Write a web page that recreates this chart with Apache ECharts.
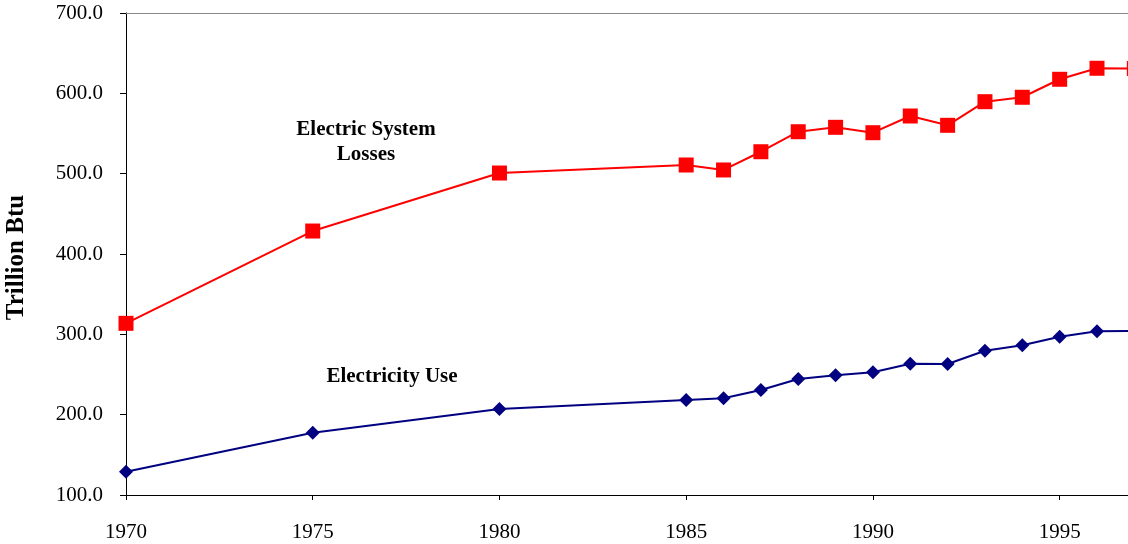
<!DOCTYPE html>
<html><head><meta charset="utf-8">
<script src="https://cdn.jsdelivr.net/npm/echarts@6/dist/echarts.min.js"></script>
<style>html,body{margin:0;padding:0;background:#fff}#c{width:1128px;height:544px}</style>
</head><body><div id="c"></div>
<script>
const years = [1970, 1975, 1980, 1985, 1986, 1987, 1988, 1989, 1990, 1991, 1992, 1993, 1994, 1995, 1996, 1997];
const lossesValues = [313.7, 428.6, 500.8, 510.8, 504.6, 527.3, 552.2, 557.7, 551.0, 571.8, 560.2, 589.6, 595.1, 617.5, 631.2, 631.0];
const useValues = [129.0, 177.6, 207.0, 218.3, 220.4, 230.7, 244.4, 249.0, 252.7, 263.5, 263.1, 279.6, 286.3, 297.1, 303.7, 304.2];
const yTicks = [100, 200, 300, 400, 500, 600, 700];
const labels = {losses: ['Electric System', 'Losses'], use: 'Electricity Use', yName: 'Trillion Btu'};

const font = 'Liberation Serif';
const chart = echarts.init(document.getElementById('c'));
chart.setOption({
  animation: false,
  backgroundColor: '#fff',
  grid: {left: 126, right: 0, top: 13, bottom: 49, containLabel: false, outerBoundsMode: 'none'},
  xAxis: [{
    type: 'value', min: 1970, max: 1996.83, interval: 5,
    axisLine: {show: true, lineStyle: {color: '#000', width: 1}},
    axisTick: {show: true, inside: false, length: 5, lineStyle: {color: '#000'}},
    splitLine: {show: false},
    axisLabel: {
      margin: 27, color: '#000', fontFamily: font, fontSize: 21,
      showMaxLabel: false,
      formatter: v => (Math.abs(v % 5) < 1e-6 ? String(Math.round(v)) : '')
    }
  }, {
    type: 'value', position: 'top', min: 1970, max: 1996.83,
    axisLine: {show: true, lineStyle: {color: '#888', width: 1}},
    axisTick: {show: false}, axisLabel: {show: false}, splitLine: {show: false}
  }],
  yAxis: {
    type: 'value', min: yTicks[0], max: yTicks[yTicks.length - 1], interval: 100,
    name: labels.yName, nameLocation: 'middle', nameGap: 97, nameRotate: 90,
    nameTextStyle: {fontFamily: font, fontWeight: 'bold', fontSize: 25, color: '#000', padding: [0, 7, 0, 0]},
    axisLine: {show: true, lineStyle: {color: '#000', width: 1}},
    axisTick: {show: true, inside: false, length: 6, lineStyle: {color: '#000'}},
    splitLine: {show: false},
    axisLabel: {margin: 23, color: '#000', fontFamily: font, fontSize: 21, formatter: v => v.toFixed(1)}
  },
  series: [{
    type: 'line', name: 'Losses', clip: false,
    data: years.map((y, i) => [y, lossesValues[i]]),
    symbol: 'rect', symbolSize: 15,
    lineStyle: {color: '#ff0000', width: 2},
    itemStyle: {color: '#ff0000'}
  }, {
    type: 'line', name: 'Use', clip: false,
    data: years.map((y, i) => [y, useValues[i]]),
    symbol: 'diamond', symbolSize: 14,
    lineStyle: {color: '#000080', width: 2},
    itemStyle: {color: '#000080'}
  }],
  graphic: [{
    type: 'text', x: 366, y: 142,
    style: {text: labels.losses.join('\n'), font: 'bold 21px "Liberation Serif"', fill: '#000', align: 'center', verticalAlign: 'middle', lineHeight: 25}
  }, {
    type: 'text', x: 392, y: 377,
    style: {text: labels.use, font: 'bold 21px "Liberation Serif"', fill: '#000', align: 'center', verticalAlign: 'middle'}
  }]
});
</script></body></html>
